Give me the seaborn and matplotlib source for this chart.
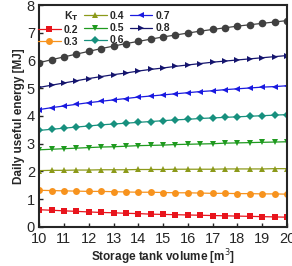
import numpy as np
import pandas as pd
import matplotlib.pyplot as plt
from matplotlib.lines import Line2D
import seaborn as sns

volume = [10, 10.5, 11, 11.5, 12, 12.5, 13, 13.5, 14, 14.5, 15,
          15.5, 16, 16.5, 17, 17.5, 18, 18.5, 19, 19.5, 20]

kt_02 = [0.62, 0.60, 0.58, 0.56, 0.54, 0.52, 0.51, 0.49, 0.48, 0.46, 0.45,
         0.44, 0.43, 0.42, 0.41, 0.40, 0.39, 0.38, 0.37, 0.36, 0.35]
kt_03 = [1.32, 1.31, 1.30, 1.29, 1.28, 1.28, 1.27, 1.26, 1.25, 1.25, 1.24,
         1.23, 1.23, 1.22, 1.21, 1.21, 1.20, 1.20, 1.19, 1.19, 1.18]
kt_04 = [2.03, 2.04, 2.04, 2.05, 2.05, 2.06, 2.06, 2.06, 2.07, 2.07, 2.07,
         2.08, 2.08, 2.08, 2.08, 2.09, 2.09, 2.09, 2.09, 2.10, 2.10]
kt_05 = [2.78, 2.80, 2.82, 2.84, 2.86, 2.88, 2.89, 2.91, 2.93, 2.94, 2.95,
         2.97, 2.98, 2.99, 3.00, 3.02, 3.03, 3.04, 3.05, 3.06, 3.07]
kt_06 = [3.48, 3.52, 3.56, 3.60, 3.64, 3.68, 3.71, 3.74, 3.77, 3.80, 3.83,
         3.86, 3.88, 3.91, 3.93, 3.95, 3.97, 3.99, 4.01, 4.03, 4.05]
kt_07 = [4.23, 4.30, 4.36, 4.42, 4.48, 4.53, 4.58, 4.63, 4.68, 4.72, 4.76,
         4.80, 4.84, 4.88, 4.91, 4.95, 4.98, 5.01, 5.04, 5.06, 5.09]
kt_08 = [5.03, 5.11, 5.19, 5.27, 5.35, 5.42, 5.49, 5.55, 5.62, 5.68, 5.73,
         5.79, 5.84, 5.89, 5.94, 5.98, 6.02, 6.06, 6.10, 6.14, 6.18]
kt_09 = [5.92, 6.03, 6.13, 6.23, 6.33, 6.43, 6.52, 6.61, 6.69, 6.77, 6.85,
         6.92, 6.99, 7.06, 7.12, 7.18, 7.24, 7.29, 7.34, 7.39, 7.44]

labels = ['0.2', '0.3', '0.4', '0.5', '0.6', '0.7', '0.8', '0.9']
series = [kt_02, kt_03, kt_04, kt_05, kt_06, kt_07, kt_08, kt_09]
colors = ['#e8141c', '#f7931e', '#8c9a1a', '#1f9a1f', '#17907e', '#1a1ae0', '#15156e', '#404040']
markers = ['s', 'o', '^', 'v', 'D', '<', '>', 'o']
msizes = [4.5, 5, 5, 5, 4.5, 5, 5, 5.5]

sns.set_style('ticks')
plt.rcParams['font.family'] = ['Liberation Sans', 'DejaVu Sans']

fig = plt.figure(figsize=(2.92, 2.66), dpi=100)
ax = fig.add_axes([0.134, 0.147, 0.849, 0.834])

for lab, vals, c, m, ms in zip(labels, series, colors, markers, msizes):
    df = pd.DataFrame({'V': volume, 'E': vals})
    sns.lineplot(data=df, x='V', y='E', ax=ax, color=c, marker=m,
                 markersize=ms, markeredgewidth=0, linewidth=0.9)

ax.set_xlim(10, 20)
ax.set_ylim(0, 8)
ax.set_xticks(range(10, 21))
ax.set_yticks(range(0, 9))
ax.tick_params(direction='in', length=3, width=1, labelsize=10.5)
ax.tick_params(axis='x', pad=4)
ax.tick_params(axis='y', pad=3)
for s in ax.spines.values():
    s.set_linewidth(1.5)
ax.set_xlabel('Storage tank volume [m$^3$]', fontsize=8.5, fontweight='bold', labelpad=1)
ax.set_ylabel('Daily useful energy [MJ]', fontsize=8.5, fontweight='bold', labelpad=1)

handles = [Line2D([], [], color='none')]
names = ['K$_\\mathbf{T}$']
for lab, c, m, ms in zip(labels[:7], colors, markers, msizes):
    handles.append(Line2D([], [], color=c, marker=m, markersize=ms, markeredgewidth=0, linewidth=0.9))
    names.append(lab)
handles.append(Line2D([], [], color='none'))
names.append('')
ax.legend(handles, names, ncol=3, loc='upper left', frameon=False,
          prop={'size': 7.5, 'weight': 'bold'}, handlelength=2.2,
          handletextpad=0.3, columnspacing=0.5, labelspacing=0.2,
          borderaxespad=0.2, bbox_to_anchor=(-0.03, 1.01))

fig.savefig('out.png', dpi=100)
